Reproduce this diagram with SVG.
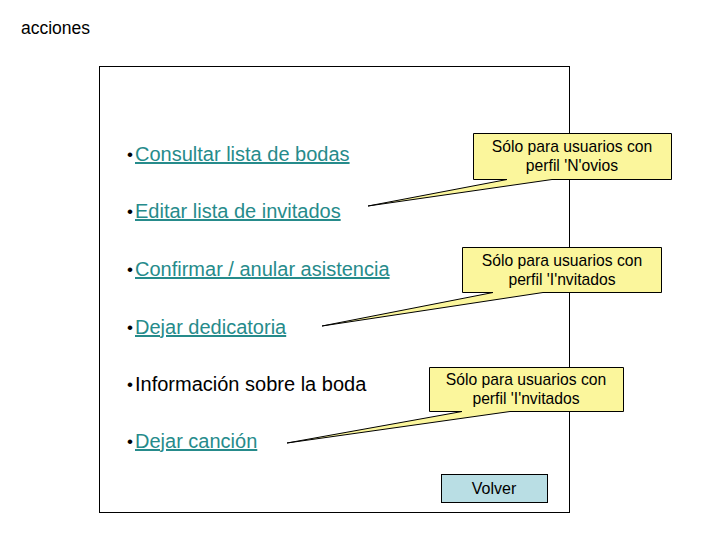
<svg xmlns="http://www.w3.org/2000/svg" width="720" height="540" viewBox="0 0 720 540">
<style>
text{font-family:"Liberation Sans",Arial,sans-serif}
.item{font-size:20px;fill:#000}
.bul{font-size:17px;fill:#000}
.link{fill:#268b8b;text-decoration:underline}
.note{fill:#fbf69c;stroke:#000;stroke-width:1}
.nt{font-size:15.7px;text-anchor:middle;fill:#000}
</style>
<rect width="720" height="540" fill="#fff"/>
<text x="21" y="34" font-size="17.5">acciones</text>
<rect id="frame" x="99.5" y="66.5" width="470" height="446" fill="none" stroke="#000"/>
<g id="items">
<text class="bul" x="127" y="160">•</text>
<text class="item link" x="135" y="161">Consultar lista de bodas</text>
<text class="bul" x="127" y="217">•</text>
<text class="item link" x="135" y="218">Editar lista de invitados</text>
<text class="bul" x="127" y="275">•</text>
<text class="item link" x="135" y="276">Confirmar / anular asistencia</text>
<text class="bul" x="127" y="333">•</text>
<text class="item link" x="135" y="334">Dejar dedicatoria</text>
<text class="bul" x="127" y="390">•</text>
<text class="item" x="135" y="391">Información sobre la boda</text>
<text class="bul" x="127" y="447">•</text>
<text class="item link" x="135" y="448">Dejar canción</text>
</g>
<g id="connectors">
<g id="note1">
<path class="note" d="M473.5 133.5 H671.5 V179.5 H552 L368 206 L507 179.5 H473.5 Z"/>
<text class="nt" x="572" y="152">Sólo para usuarios con</text>
<text class="nt" x="572" y="171">perfil 'N'ovios</text>
</g>
<g id="note2">
<path class="note" d="M462.5 247.5 H661.5 V292.5 H543 L322 326 L493 292.5 H462.5 Z"/>
<text class="nt" x="562" y="266">Sólo para usuarios con</text>
<text class="nt" x="562" y="285">perfil 'I'nvitados</text>
</g>
<g id="note3">
<path class="note" d="M429.5 367.5 H623.5 V411.5 H510 L287 443 L462 411.5 H429.5 Z"/>
<text class="nt" x="526" y="385">Sólo para usuarios con</text>
<text class="nt" x="526" y="404">perfil 'I'nvitados</text>
</g>
</g>
<g id="volver">
<rect x="441.5" y="474.5" width="106" height="28" fill="#b9dee4" stroke="#000"/>
<text x="494" y="494" font-size="16" text-anchor="middle">Volver</text>
</g>
</svg>
